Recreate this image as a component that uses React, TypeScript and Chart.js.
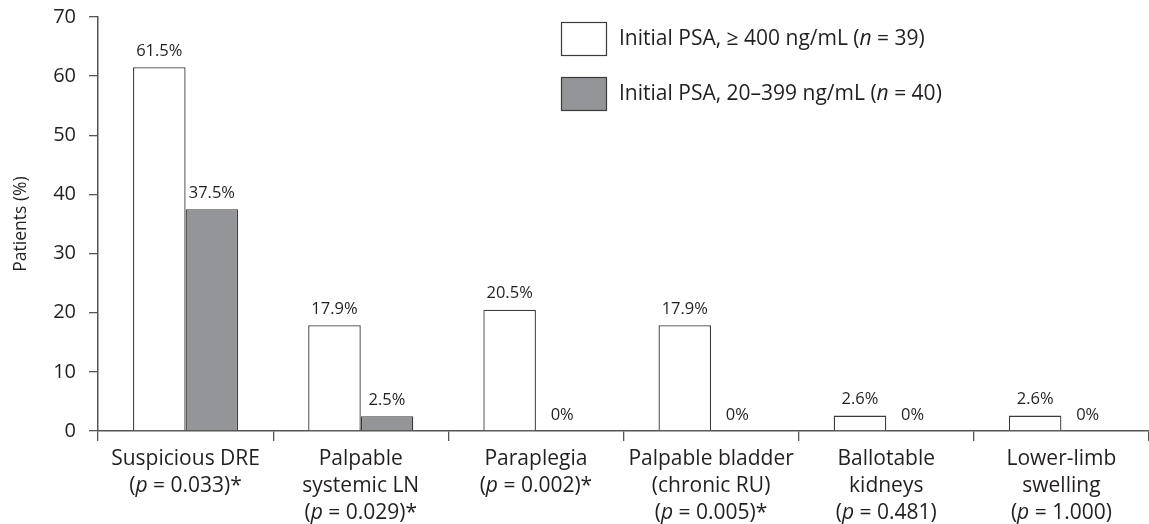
import React, { useEffect, useRef } from 'react';
import { Chart, registerables } from 'chart.js';

Chart.register(...registerables);

const categories = [
  'Suspicious DRE',
  'Palpable systemic LN',
  'Paraplegia',
  'Palpable bladder (chronic RU)',
  'Ballotable kidneys',
  'Lower-limb swelling',
];
const categoryLines = [
  ['Suspicious DRE'],
  ['Palpable', 'systemic LN'],
  ['Paraplegia'],
  ['Palpable bladder', '(chronic RU)'],
  ['Ballotable', 'kidneys'],
  ['Lower-limb', 'swelling'],
];
const pValues = ['0.033', '0.029', '0.002', '0.005', '0.481', '1.000'];
const significant = [true, true, true, true, false, false];

const highPSA = [61.5, 17.9, 20.5, 17.9, 2.6, 2.6];
const lowPSA = [37.5, 2.5, 0, 0, 0, 0];

const seriesNames = ['Initial PSA, \u2265 400 ng/mL', 'Initial PSA, 20\u2013399 ng/mL'];
const seriesN = [39, 40];
const seriesFill = ['#ffffff', '#939598'];

const yTicks = [0, 10, 20, 30, 40, 50, 60, 70];

const FONT = '"Open Sans", "DejaVu Sans", sans-serif';
const TEXT = '#231f20';
const AXIS = '#555555';

type Seg = [string, boolean];

function drawRich(ctx: CanvasRenderingContext2D, segs: Seg[], x: number, y: number, align: 'left' | 'center', size: number) {
  const fonts = segs.map(([, it]) => `${it ? 'italic ' : ''}${size}px ${FONT}`);
  const widths = segs.map(([t], i) => {
    ctx.font = fonts[i];
    return ctx.measureText(t).width;
  });
  const total = widths.reduce((a, b) => a + b, 0);
  let cx = align === 'center' ? x - total / 2 : x;
  ctx.textAlign = 'left';
  ctx.textBaseline = 'middle';
  segs.forEach(([t], i) => {
    ctx.font = fonts[i];
    ctx.fillText(t, cx, y);
    cx += widths[i];
  });
}

const overlayPlugin = {
  id: 'overlay',
  afterDraw(chart: any) {
    const ctx: CanvasRenderingContext2D = chart.ctx;
    const area = chart.chartArea;
    const xScale = chart.scales.x;
    ctx.save();
    ctx.fillStyle = TEXT;

    // value labels
    chart.data.datasets.forEach((ds: any, di: number) => {
      const meta = chart.getDatasetMeta(di);
      meta.data.forEach((bar: any, i: number) => {
        const v = ds.data[i];
        ctx.font = `16.5px ${FONT}`;
        ctx.textAlign = 'center';
        ctx.textBaseline = 'middle';
        ctx.fillText(`${v}%`, bar.x, bar.y - 16);
      });
    });

    // category labels
    categories.forEach((_, i) => {
      const cx = xScale.getPixelForValue(i);
      const lines: Seg[][] = categoryLines[i].map((l) => [[l, false]] as Seg[]);
      lines.push([
        ['(', false],
        ['p', true],
        [` = ${pValues[i]})${significant[i] ? '*' : ''}`, false],
      ]);
      lines.forEach((segs, li) => {
        drawRich(ctx, segs, cx, area.bottom + 28 + li * 27, 'center', 21);
      });
    });

    // legend
    const boxX = 561;
    const boxTops = [22, 77];
    chart.data.datasets.forEach((ds: any, di: number) => {
      const top = boxTops[di];
      ctx.fillStyle = ds.backgroundColor;
      ctx.fillRect(boxX, top, 45, 33);
      ctx.strokeStyle = ds.borderColor;
      ctx.lineWidth = 1.2;
      ctx.strokeRect(boxX + 0.5, top + 0.5, 45, 33);
      ctx.fillStyle = TEXT;
      drawRich(
        ctx,
        [
          [`${seriesNames[di]} (`, false],
          ['n', true],
          [` = ${seriesN[di]})`, false],
        ],
        619,
        top + 17,
        'left',
        21
      );
    });
    ctx.restore();
  },
};

export default function App() {
  const ref = useRef<HTMLCanvasElement>(null);
  useEffect(() => {
    if (!ref.current) return;
    const chart = new Chart(ref.current, {
      type: 'bar',
      data: {
        labels: categories,
        datasets: [
          {
            label: seriesNames[0],
            data: highPSA,
            backgroundColor: seriesFill[0],
            borderColor: '#3a3a3a',
            borderWidth: 1.3,
            categoryPercentage: 0.6,
            barPercentage: 1,
          },
          {
            label: seriesNames[1],
            data: lowPSA,
            backgroundColor: seriesFill[1],
            borderColor: '#3a3a3a',
            borderWidth: 1.3,
            categoryPercentage: 0.6,
            barPercentage: 1,
          },
        ],
      },
      options: {
        responsive: false,
        animation: false,
        maintainAspectRatio: false,
        layout: { padding: { top: 17, right: 0, left: 0, bottom: 0 } },
        plugins: {
          legend: { display: false },
          tooltip: { enabled: false },
        },
        scales: {
          x: {
            grid: {
              offset: true,
              drawOnChartArea: false,
              tickLength: 10,
              color: AXIS,
              lineWidth: 1.3,
            },
            border: { color: AXIS, width: 1.5 },
            ticks: { display: true, callback: () => '' },
            afterFit: (s: any) => {
              s.height = 93;
              s.paddingLeft = 0;
              s.paddingRight = 0;
            },
          },
          y: {
            min: 0,
            max: 70,
            afterBuildTicks: (s: any) => {
              s.ticks = yTicks.map((v) => ({ value: v }));
            },
            grid: {
              drawOnChartArea: false,
              tickLength: 9,
              color: AXIS,
              lineWidth: 1.3,
            },
            border: { color: AXIS, width: 1.5 },
            ticks: {
              color: TEXT,
              padding: 13,
              font: { family: FONT, size: 20 },
            },
            title: {
              display: true,
              text: 'Patients (%)',
              color: TEXT,
              font: { family: FONT, size: 17.5 },
              padding: { top: 11, bottom: 0 },
            },
            afterFit: (s: any) => {
              s.width = 98;
              s.paddingTop = 0;
              s.paddingBottom = 0;
            },
          },
        },
      },
      plugins: [overlayPlugin],
    });
    return () => chart.destroy();
  }, []);
  return (
    <div style={{ position: 'absolute', left: 0, top: 0, width: 1149, height: 524 }}>
      <canvas ref={ref} width={1149} height={524} style={{ width: 1149, height: 524 }} />
    </div>
  );
}
